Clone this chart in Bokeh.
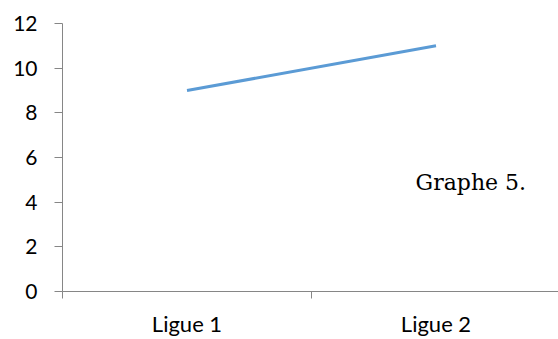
from bokeh.plotting import figure
from bokeh.models import Range1d, FixedTicker, Label
from bokeh.embed import file_html
from bokeh.resources import INLINE

categories = ["Ligue 1", "Ligue 2"]
values = [9, 11]
y_ticks = [0, 2, 4, 6, 8, 10, 12]
note = "Graphe 5."

cat_pos = [i + 0.5 for i in range(len(categories))]
bounds = list(range(len(categories) + 1))

p = figure(width=558, height=339, output_backend="svg", toolbar_location=None,
           x_range=Range1d(0, 1.992), y_range=Range1d(0, 12),
           min_border_left=62, min_border_right=0, min_border_top=23, min_border_bottom=46)
p.outline_line_color = None
p.xgrid.visible = False
p.ygrid.visible = False
p.background_fill_color = "white"
p.border_fill_color = "white"

p.line(cat_pos, values, line_color="#5B9BD5", line_width=3)

axis_color = "#868686"
xa = p.xaxis[0]
xa.ticker = FixedTicker(ticks=cat_pos, minor_ticks=bounds)
xa.major_label_overrides = {c: l for c, l in zip(cat_pos, categories)}
xa.major_tick_out = 0
xa.major_tick_in = 0
xa.minor_tick_out = 7
xa.minor_tick_in = 0
xa.minor_tick_line_color = axis_color
xa.axis_line_color = axis_color
xa.major_label_text_font = "Lato"
xa.major_label_text_font_size = "22px"
xa.major_label_text_color = "black"
xa.major_label_standoff = 11

ya = p.yaxis[0]
ya.ticker = FixedTicker(ticks=y_ticks, minor_ticks=[])
ya.major_tick_out = 8
ya.major_tick_in = 0
ya.major_tick_line_color = axis_color
ya.axis_line_color = axis_color
ya.major_label_text_font = "Lato"
ya.major_label_text_font_size = "21px"
ya.major_label_text_color = "black"
ya.major_label_standoff = 17

p.add_layout(Label(x=1.64, y=4.9, text=note, text_font="DejaVu Serif",
                   text_font_size="22px", text_align="center",
                   text_baseline="alphabetic", text_color="black"))

open("out.html", "w").write(file_html(p, INLINE))
